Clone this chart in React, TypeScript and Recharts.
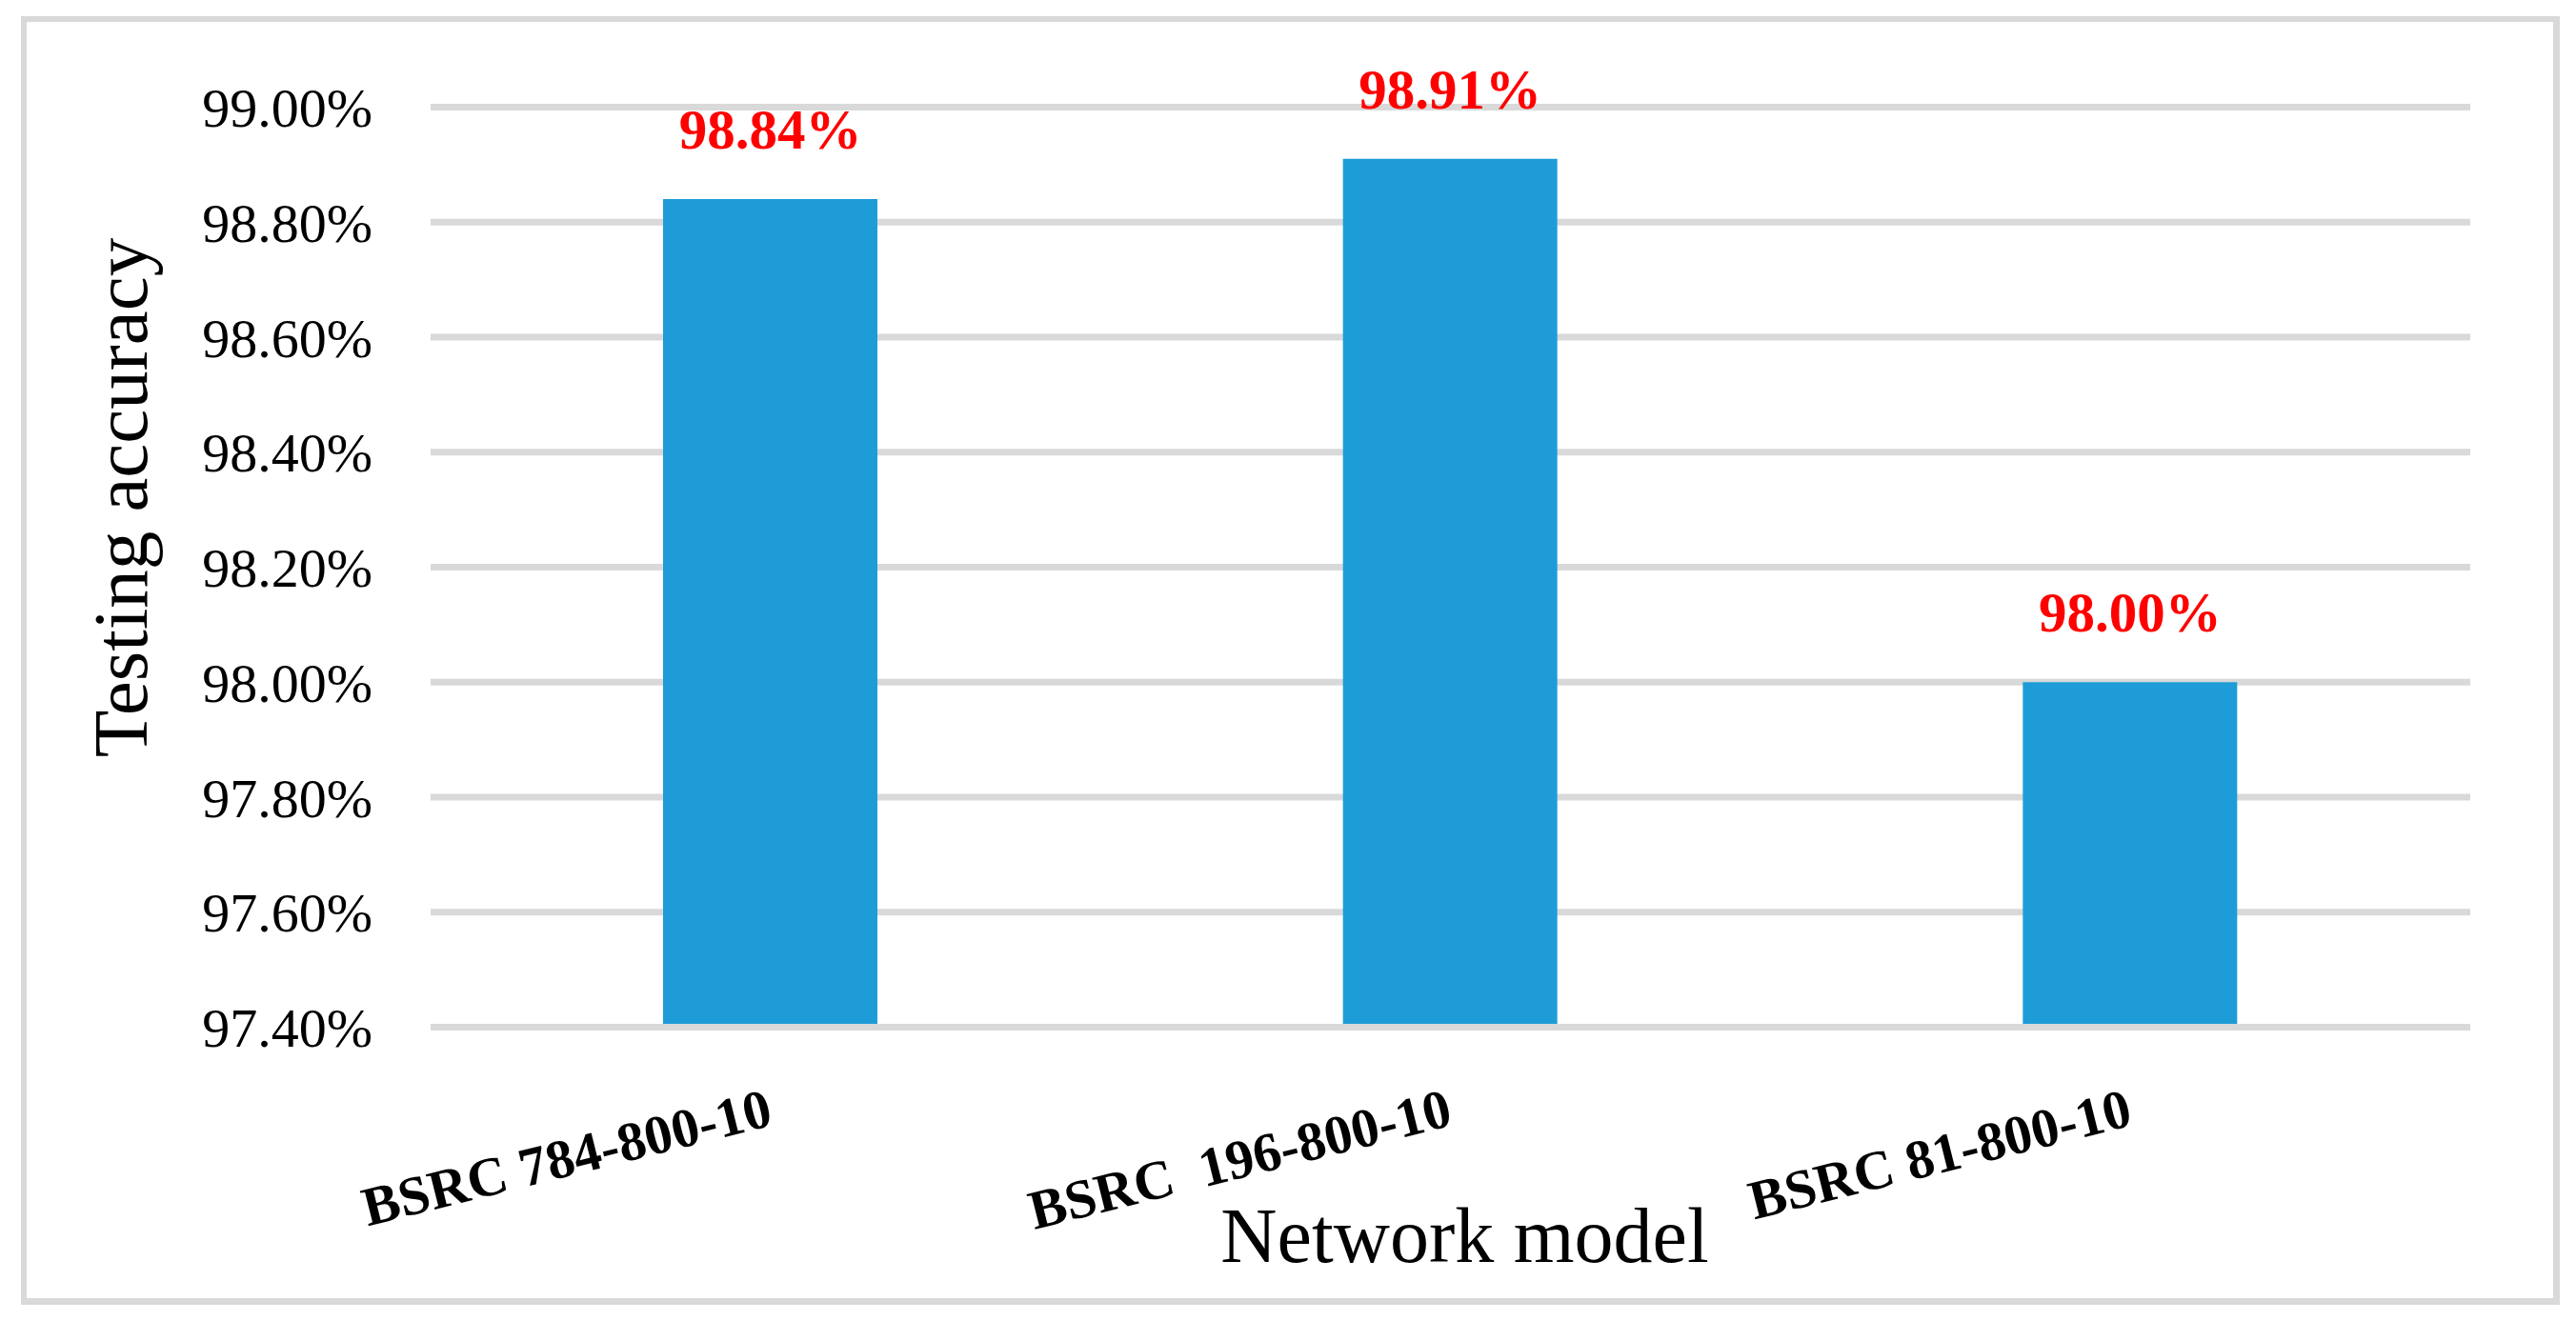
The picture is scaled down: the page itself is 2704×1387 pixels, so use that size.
import { BarChart, Bar, XAxis, YAxis, CartesianGrid, LabelList } from 'recharts'

const categories = ['BSRC 784-800-10', 'BSRC  196-800-10', 'BSRC 81-800-10']
const accuracy = [98.84, 98.91, 98.0]
const yTicks = [97.4, 97.6, 97.8, 98.0, 98.2, 98.4, 98.6, 98.8, 99.0]

const data = categories.map((name, i) => ({ name, accuracy: accuracy[i] }))

const serif = "'Liberation Serif', 'Times New Roman', serif"

const CategoryTick = ({ x, y, payload }: any) => (
  <g transform={`translate(${x + 4},${y + 94.5}) rotate(-14)`}>
    <text
      x={0}
      y={0}
      textAnchor="end"
      fill="#000"
      fontFamily={serif}
      fontWeight="bold"
      fontSize={58}
      style={{ whiteSpace: 'pre' }}
    >
      {payload.value}
    </text>
  </g>
)

const XTitle = ({ viewBox }: any) => (
  <text
    x={viewBox.x + viewBox.width / 2 + 15}
    y={viewBox.y + 246.5}
    textAnchor="middle"
    fill="#000"
    fontFamily={serif}
    fontSize={82}
  >
    Network model
  </text>
)

const YTitle = ({ viewBox }: any) => {
  const cx = viewBox.x + 102
  const cy = viewBox.y + viewBox.height / 2 - 73
  return (
    <text
      x={cx}
      y={cy}
      transform={`rotate(-90, ${cx}, ${cy})`}
      textAnchor="middle"
      fill="#000"
      fontFamily={serif}
      fontSize={81}
    >
      Testing accuracy
    </text>
  )
}

export default function App() {
  return (
    <div style={{ position: 'absolute', left: 0, top: 0, width: 2704, height: 1387, background: '#fff' }}>
      <div
        style={{
          position: 'absolute',
          left: 22,
          top: 17,
          width: 2665,
          height: 1353,
          boxSizing: 'border-box',
          borderStyle: 'solid',
          borderColor: '#d9d9d9',
          borderWidth: '6px 7px 7px 6px',
        }}
      />
      <div style={{ position: 'absolute', left: 0, top: 0 }}>
        <BarChart
          width={2704}
          height={1387}
          data={data}
          margin={{ top: 112.5, right: 111, bottom: 48.5, left: 52 }}
        >
          <CartesianGrid vertical={false} stroke="#d9d9d9" strokeWidth={7} />
          <YAxis
            type="number"
            domain={[97.4, 99.0]}
            ticks={yTicks}
            allowDataOverflow
            width={400}
            axisLine={false}
            tickLine={false}
            tickMargin={55}
            tickFormatter={(v: number) => `${v.toFixed(2)}%`}
            tick={{ fill: '#000', fontSize: 58, fontFamily: serif }}
            label={{ content: <YTitle /> }}
          />
          <Bar dataKey="accuracy" fill="#1e9cd7" barSize={225} isAnimationActive={false}>
            <LabelList
              dataKey="accuracy"
              position="top"
              offset={53}
              formatter={(v: any) => `${Number(v).toFixed(2)}%`}
              fill="#ff0000"
              fontSize={59}
              fontWeight="bold"
              fontFamily={serif}
            />
          </Bar>
          <XAxis
            dataKey="name"
            axisLine={{ stroke: '#d9d9d9', strokeWidth: 7 }}
            tickLine={false}
            interval={0}
            height={260}
            tick={<CategoryTick />}
            label={{ content: <XTitle /> }}
          />
        </BarChart>
      </div>
    </div>
  )
}
